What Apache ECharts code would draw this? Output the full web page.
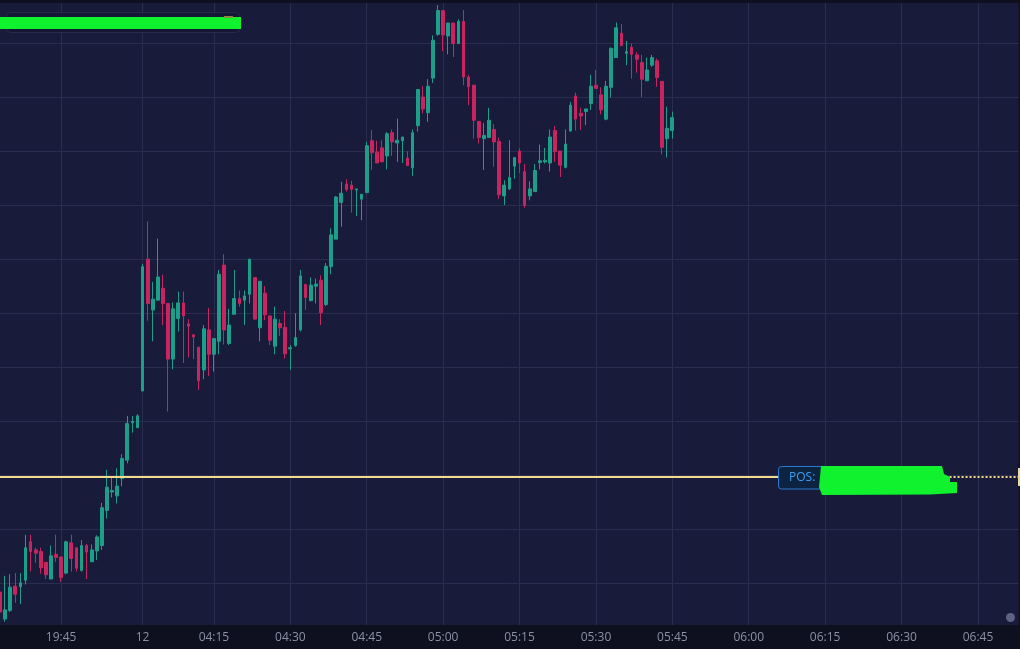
<!DOCTYPE html>
<html>
<head>
<meta charset="utf-8">
<title>candles</title>
<script src="https://cdn.jsdelivr.net/npm/echarts@6/dist/echarts.min.js"></script>
<style>
  html, body { margin: 0; padding: 0; background: #0e1020; }
  #chart { width: 1020px; height: 649px; }
</style>
</head>
<body>
<div id="chart"></div>
<script>
// minute sessions shown on the time axis (evening of the 11th, morning of the 12th)
const sessions = [['19:33', '20:00'], ['04:01', '06:53']]
const tickTimes = ['19:45', '04:01', '04:15', '04:30', '04:45', '05:00', '05:15',
  '05:30', '05:45', '06:00', '06:15', '06:30', '06:45']
const dayLabels = {'04:01': '12'}

// [open, close, low, high]
const eveningCandles = [
  [4178.4, 4174.7, 4172.5, 4179.2],
  [4173.4, 4175.1, 4172.9, 4181.4],
  [4175.0, 4179.3, 4174.7, 4181.7],
  [4179.5, 4178.0, 4176.4, 4181.9],
  [4179.4, 4180.1, 4176.2, 4181.9],
  [4180.6, 4186.6, 4179.8, 4189.0],
  [4187.7, 4185.9, 4182.2, 4189.0],
  [4186.2, 4185.6, 4183.8, 4186.6],
  [4185.9, 4182.9, 4181.8, 4186.6],
  [4183.9, 4181.6, 4180.8, 4183.9],
  [4180.8, 4185.1, 4180.8, 4187.0],
  [4185.4, 4184.8, 4184.0, 4189.0],
  [4184.9, 4181.1, 4180.3, 4184.9],
  [4181.9, 4187.7, 4181.7, 4187.9],
  [4187.5, 4184.6, 4182.2, 4189.0],
  [4186.6, 4182.8, 4182.2, 4186.6],
  [4182.4, 4187.0, 4182.2, 4188.0],
  [4187.0, 4185.8, 4180.8, 4187.3],
  [4184.0, 4186.2, 4184.0, 4187.2],
  [4186.0, 4188.6, 4184.3, 4188.9],
  [4187.0, 4194.0, 4186.2, 4194.9],
  [4193.5, 4197.8, 4192.0, 4201.0],
  [4196.9, 4197.2, 4195.9, 4199.6],
  [4196.2, 4198.0, 4194.8, 4201.3],
  [4199.4, 4203.1, 4198.0, 4203.9],
  [4202.8, 4209.6, 4202.2, 4211.0],
  [4209.7, 4210.0, 4207.9, 4211.0],
  [4208.8, 4211.0, 4208.8, 4211.3],
]

const morningCandles = [
  [4215.6, 4238.6, 4215.6, 4239.1],
  [4240.0, 4231.8, 4228.6, 4247.0],
  [4230.6, 4232.6, 4224.8, 4235.8],
  [4232.4, 4236.7, 4232.4, 4243.8],
  [4234.6, 4231.8, 4227.8, 4237.1],
  [4231.8, 4221.5, 4211.8, 4231.8],
  [4221.5, 4230.8, 4219.6, 4232.0],
  [4229.0, 4231.9, 4226.6, 4234.0],
  [4231.9, 4229.5, 4220.8, 4234.0],
  [4228.0, 4227.6, 4221.8, 4228.9],
  [4226.0, 4225.6, 4221.5, 4226.0],
  [4223.7, 4217.5, 4215.8, 4223.7],
  [4219.5, 4227.1, 4217.8, 4227.8],
  [4226.9, 4222.4, 4218.4, 4231.0],
  [4222.4, 4225.3, 4219.2, 4225.3],
  [4224.8, 4237.2, 4222.4, 4238.0],
  [4238.9, 4226.9, 4224.2, 4240.9],
  [4224.4, 4227.8, 4224.1, 4230.8],
  [4229.8, 4232.7, 4229.8, 4238.0],
  [4232.7, 4231.8, 4231.2, 4234.2],
  [4232.4, 4233.2, 4227.8, 4234.2],
  [4233.5, 4240.0, 4231.8, 4240.0],
  [4236.6, 4228.9, 4228.9, 4236.6],
  [4227.3, 4235.9, 4224.8, 4235.9],
  [4233.7, 4229.7, 4228.7, 4235.0],
  [4229.5, 4225.0, 4224.1, 4229.5],
  [4223.9, 4228.9, 4222.4, 4231.2],
  [4228.1, 4227.3, 4225.8, 4228.9],
  [4227.4, 4222.5, 4221.6, 4230.4],
  [4223.4, 4223.6, 4219.5, 4224.1],
  [4224.0, 4225.5, 4223.8, 4230.0],
  [4226.9, 4236.9, 4226.6, 4238.0],
  [4235.3, 4232.9, 4230.6, 4235.3],
  [4232.3, 4235.2, 4232.3, 4236.6],
  [4235.0, 4235.4, 4231.8, 4236.4],
  [4236.1, 4230.1, 4227.8, 4237.0],
  [4231.6, 4238.7, 4231.3, 4239.3],
  [4238.6, 4244.5, 4237.2, 4245.7],
  [4243.7, 4251.5, 4243.7, 4251.7],
  [4250.5, 4252.2, 4246.0, 4254.3],
  [4253.9, 4252.9, 4252.5, 4254.8],
  [4253.7, 4252.9, 4248.6, 4254.5],
  [4252.8, 4253.0, 4248.0, 4253.0],
  [4251.1, 4252.0, 4247.2, 4252.0],
  [4252.3, 4261.0, 4252.3, 4261.7],
  [4261.9, 4259.7, 4256.5, 4263.9],
  [4259.8, 4257.8, 4257.8, 4261.9],
  [4260.6, 4258.0, 4258.0, 4262.0],
  [4259.1, 4263.2, 4256.6, 4263.5],
  [4263.4, 4261.7, 4259.1, 4264.0],
  [4261.5, 4262.0, 4258.0, 4266.0],
  [4261.9, 4262.6, 4257.8, 4262.6],
  [4258.7, 4257.3, 4257.3, 4260.0],
  [4256.9, 4263.4, 4255.4, 4264.0],
  [4264.7, 4271.4, 4263.6, 4271.5],
  [4270.0, 4267.8, 4267.0, 4272.0],
  [4267.1, 4272.0, 4265.4, 4273.3],
  [4273.5, 4280.5, 4272.6, 4281.4],
  [4281.6, 4286.0, 4281.3, 4287.0],
  [4286.0, 4281.5, 4278.5, 4286.1],
  [4281.3, 4283.7, 4277.9, 4283.7],
  [4283.7, 4279.9, 4277.4, 4283.7],
  [4279.9, 4284.0, 4279.9, 4284.4],
  [4284.0, 4273.7, 4272.2, 4286.1],
  [4273.7, 4271.9, 4268.5, 4274.1],
  [4272.2, 4265.7, 4262.3, 4272.2],
  [4265.5, 4262.5, 4261.4, 4265.5],
  [4262.3, 4262.9, 4256.5, 4265.2],
  [4262.5, 4265.7, 4262.5, 4268.0],
  [4264.0, 4261.7, 4257.1, 4265.0],
  [4261.8, 4251.9, 4251.1, 4262.5],
  [4251.7, 4253.7, 4250.0, 4254.6],
  [4253.0, 4255.1, 4252.8, 4262.0],
  [4257.2, 4258.8, 4254.9, 4258.9],
  [4260.0, 4257.8, 4255.9, 4260.5],
  [4256.2, 4249.9, 4249.5, 4257.6],
  [4251.7, 4253.0, 4250.9, 4254.4],
  [4252.5, 4256.4, 4252.5, 4257.6],
  [4257.9, 4258.2, 4256.6, 4261.2],
  [4258.0, 4258.3, 4257.7, 4260.6],
  [4257.8, 4262.6, 4256.2, 4264.0],
  [4263.8, 4259.9, 4258.0, 4264.6],
  [4260.0, 4257.4, 4255.2, 4260.0],
  [4257.0, 4261.3, 4256.8, 4264.0],
  [4263.7, 4268.5, 4263.6, 4269.1],
  [4270.2, 4265.9, 4263.8, 4270.8],
  [4267.0, 4266.5, 4263.9, 4268.0],
  [4267.3, 4267.8, 4264.8, 4267.8],
  [4268.8, 4272.0, 4267.6, 4274.1],
  [4272.2, 4271.6, 4271.6, 4275.0],
  [4270.4, 4267.6, 4266.8, 4271.8],
  [4265.9, 4272.0, 4265.7, 4273.0],
  [4271.8, 4279.0, 4269.9, 4279.2],
  [4277.3, 4282.8, 4277.3, 4283.8],
  [4281.8, 4279.5, 4279.5, 4283.5],
  [4278.1, 4278.4, 4275.9, 4280.4],
  [4279.2, 4277.9, 4273.4, 4279.9],
  [4277.8, 4277.0, 4274.5, 4278.3],
  [4276.4, 4273.3, 4270.0, 4277.8],
  [4273.0, 4275.0, 4273.0, 4277.3],
  [4275.9, 4277.3, 4275.6, 4277.8],
  [4276.7, 4273.6, 4271.9, 4277.1],
  [4272.9, 4260.7, 4259.4, 4272.9],
  [4262.3, 4264.2, 4258.8, 4268.2],
  [4263.8, 4266.2, 4262.3, 4267.3],
]

const priceLevels = [4180, 4190, 4200, 4210, 4220, 4230, 4240, 4250, 4260, 4270, 4280]
const priceRange = [4172.3, 4287.4]
const posPrice = 4199.8
const posLineEnd = '06:06'
const posDotsStart = '06:30'

function minuteLabels (from, to) {
  const toMin = s => {
    const [h, m] = s.split(':').map(Number)
    return h * 60 + m
  }
  const out = []
  for (let t = toMin(from); t <= toMin(to); t++) {
    out.push(String(Math.floor(t / 60)).padStart(2, '0') + ':' +
      String(t % 60).padStart(2, '0'))
  }
  return out
}

const categories = sessions.flatMap(s => minuteLabels(s[0], s[1]))
const candles = eveningCandles.concat(morningCandles)
const isTick = (index, value) => tickTimes.indexOf(value) !== -1

const gridColor = '#292d50'
const upColor = '#1d9e88'
const downColor = '#c8245f'
const posColor = '#f4da8e'

const chart = echarts.init(document.getElementById('chart'))

chart.setOption({
  animation: false,
  backgroundColor: '#0e1020',
  grid: {
    left: -1.3,
    width: 1020,
    top: 3,
    bottom: 24,
    show: true,
    backgroundColor: '#181b3a',
    borderWidth: 0,
  },
  xAxis: {
    type: 'category',
    data: categories,
    boundaryGap: false,
    axisLine: {show: false},
    axisTick: {show: false},
    axisLabel: {
      interval: isTick,
      color: '#8d90a5',
      fontFamily: 'Open Sans',
      fontSize: 12,
      margin: 7,
      formatter: value => dayLabels[value] || value,
    },
    splitLine: {
      show: true,
      interval: isTick,
      lineStyle: {color: gridColor, width: 1},
    },
  },
  yAxis: {
    type: 'value',
    min: priceRange[0],
    max: priceRange[1],
    show: false,
    splitLine: {show: false},
  },
  series: [
    {
      name: 'grid',
      type: 'line',
      data: [],
      silent: true,
      markLine: {
        z: 1,
        silent: true,
        symbol: 'none',
        label: {show: false},
        lineStyle: {color: gridColor, width: 1, type: 'solid'},
        data: priceLevels.map(p => ({yAxis: p})),
      },
    },
    {
      name: 'price',
      type: 'candlestick',
      z: 2,
      barWidth: 3.2,
      data: candles,
      itemStyle: {
        color: upColor,
        color0: downColor,
        borderColor: upColor,
        borderColor0: downColor,
        borderWidth: 1,
      },
      markLine: {
        silent: true,
        symbol: 'none',
        label: {show: false},
        data: [
          [
            {coord: [categories[0], posPrice], lineStyle: {color: posColor, width: 2, type: 'solid'}},
            {coord: [posLineEnd, posPrice]},
          ],
          [
            {coord: [posDotsStart, posPrice], lineStyle: {color: posColor, width: 2, type: [2, 2]}},
            {coord: [categories[categories.length - 1], posPrice]},
          ],
        ],
      },
    },
  ],
  graphic: [
    {
      type: 'rect',
      z: 50,
      shape: {x: 6.5, y: 12.5, width: 233, height: 20, r: 4},
      style: {fill: '#151834', stroke: '#262a4c', lineWidth: 1},
    },
    {
      type: 'rect',
      z: 51,
      shape: {x: 0, y: 17, width: 241, height: 12},
      style: {fill: '#10f22e'},
    },
    {
      type: 'rect',
      z: 52,
      shape: {x: 224, y: 16, width: 9, height: 2},
      style: {fill: '#8c8a3c'},
    },
    {
      type: 'rect',
      z: 50,
      shape: {x: 778.5, y: 466.5, width: 70, height: 22.5, r: 3},
      style: {fill: '#0c2442', stroke: '#2a7bcf', lineWidth: 1},
    },
    {
      type: 'text',
      z: 51,
      style: {
        x: 789,
        y: 478,
        text: 'POS:',
        fill: '#3a9ff2',
        font: '12px "Open Sans"',
        verticalAlign: 'middle',
      },
    },
    {
      type: 'polygon',
      z: 52,
      shape: {
        points: [[821, 466], [942, 466], [944, 474], [950, 477], [950, 482],
          [957, 482], [957, 493], [930, 494.5], [822, 495], [819, 487], [820, 477]],
      },
      style: {fill: '#10f22d'},
    },
    {
      type: 'rect',
      z: 50,
      shape: {x: 1018, y: 468, width: 2, height: 18},
      style: {fill: '#e8d9a2'},
    },
    {
      type: 'circle',
      z: 50,
      shape: {cx: 1010.5, cy: 617.5, r: 4.5},
      style: {fill: '#5f6282'},
    },
  ],
})
</script>
</body>
</html>
